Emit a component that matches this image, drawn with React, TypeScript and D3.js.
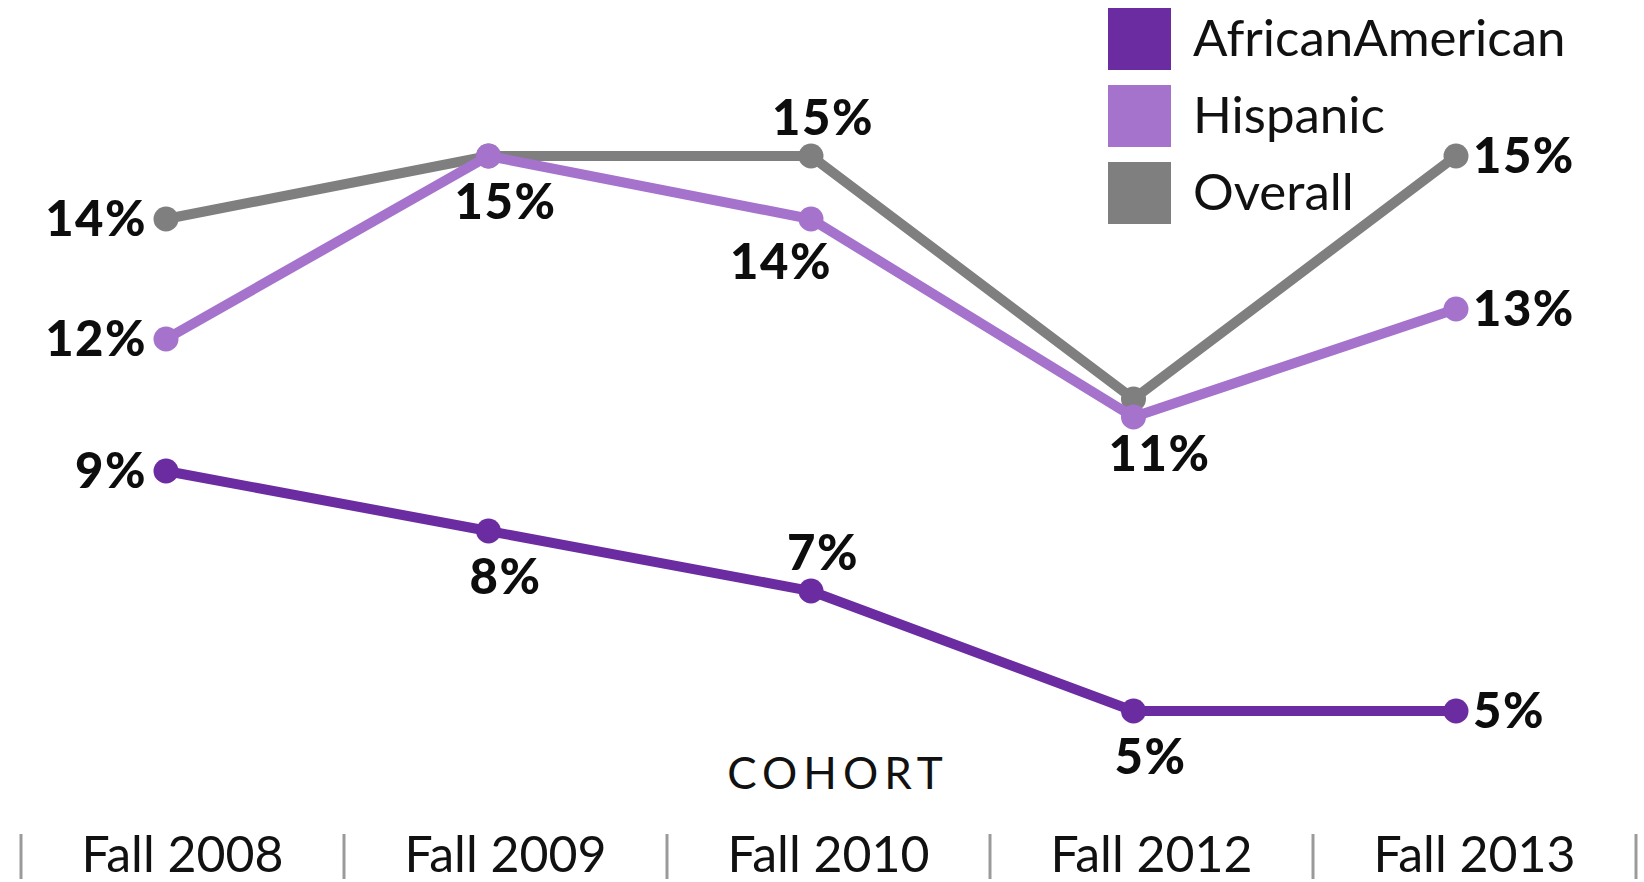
import React from 'react';
import * as d3 from 'd3';

// cohorts on the x axis
const cohorts = ['Fall 2008', 'Fall 2009', 'Fall 2010', 'Fall 2012', 'Fall 2013'];

// series values (% )
const overall = [13.6, 14.65, 14.65, 10.6, 14.65];
const hispanic = [11.6, 14.65, 13.6, 10.3, 12.1];
const africanAmerican = [9.4, 8.4, 7.4, 5.4, 5.4];

// printed data labels (null = not shown)
const overallLabels = ['14%', null, '15%', null, '15%'];
const hispanicLabels = ['12%', '15%', '14%', '11%', '13%'];
const africanAmericanLabels = ['9%', '8%', '7%', '5%', '5%'];

// where each label sits relative to its point
const overallPlace = ['left', null, 'above', null, 'right'];
const hispanicPlace = ['left', 'below', 'belowLeft', 'belowRight', 'right'];
const africanAmericanPlace = ['left', 'below', 'above', 'below', 'right'];

const legendNames = ['AfricanAmerican', 'Hispanic', 'Overall'];

const W = 1644;
const H = 882;

const colors = {
  AfricanAmerican: '#6a2ca0',
  Hispanic: '#a572cc',
  Overall: '#7f7f7f',
};

const App = () => {
  const x = d3.scalePoint().domain(cohorts).range([166, 1456]);
  const band = d3.scaleBand().domain(cohorts).range([21, 1636]);
  const y = d3.scaleLinear().domain([0, 16]).range([1035, 75]);

  const line = d3
    .line<number>()
    .x((_, i) => x(cohorts[i]))
    .y((d) => y(d));

  const series = [
    { name: 'Overall', values: overall, labels: overallLabels, place: overallPlace },
    { name: 'Hispanic', values: hispanic, labels: hispanicLabels, place: hispanicPlace },
    { name: 'AfricanAmerican', values: africanAmerican, labels: africanAmericanLabels, place: africanAmericanPlace },
  ];

  // label offsets per placement
  const labelPos = (p, px, py) => {
    switch (p) {
      case 'left':
        return { x: px - 19, y: py + 17, anchor: 'end' };
      case 'right':
        return { x: px + 17, y: py + 17, anchor: 'start' };
      case 'above':
        return { x: px + 12, y: py - 21, anchor: 'middle' };
      case 'below':
        return { x: px + 17, y: py + 63, anchor: 'middle' };
      case 'belowLeft':
        return { x: px - 30, y: py + 60, anchor: 'middle' };
      case 'belowRight':
        return { x: px + 26, y: py + 54, anchor: 'middle' };
      default:
        return null;
    }
  };

  return (
    <svg
      width={W}
      height={H}
      style={{ position: 'absolute', left: 0, top: 0, background: '#fff' }}
    >
      {series.map((s) => (
        <g key={s.name}>
          <path d={line(s.values)} fill="none" stroke={colors[s.name]} strokeWidth={10} />
          {s.values.map((v, i) => (
            <circle key={i} cx={x(cohorts[i])} cy={y(v)} r={12.5} fill={colors[s.name]} />
          ))}
        </g>
      ))}

      {series.map((s) =>
        s.values.map((v, i) => {
          if (!s.labels[i]) return null;
          const pos = labelPos(s.place[i], x(cohorts[i]), y(v));
          return (
            <text
              key={s.name + i}
              x={pos.x}
              y={pos.y}
              textAnchor={pos.anchor}
              fill="#0d0d0d"
              fontFamily="Lato, sans-serif"
              fontWeight={900}
              fontSize={49}
              letterSpacing={1.5}
            >
              {s.labels[i]}
            </text>
          );
        })
      )}

      {/* legend */}
      {legendNames.map((n, i) => (
        <g key={n} transform={`translate(1108, ${8 + i * 77})`}>
          <rect width={63} height={62} fill={colors[n]} />
          <text x={85} y={48} fontFamily="Lato, sans-serif" fontSize={51} fill="#111">
            {n}
          </text>
        </g>
      ))}

      {/* axis title */}
      <text
        x={838}
        y={789}
        textAnchor="middle"
        fontFamily="Lato, sans-serif"
        fontSize={44}
        letterSpacing={6}
        fill="#111"
      >
        COHORT
      </text>

      {/* category axis: separators and labels */}
      {[...cohorts.map((c) => band(c)), band.range()[1]].map((sx, i) => (
        <line key={i} x1={sx} x2={sx} y1={834} y2={879} stroke="#9a9a9a" strokeWidth={3} />
      ))}
      {cohorts.map((c) => (
        <text
          key={c}
          x={band(c) + band.bandwidth() / 2}
          y={872}
          textAnchor="middle"
          fontFamily="Lato, sans-serif"
          fontSize={50}
          fill="#111"
        >
          {c}
        </text>
      ))}
    </svg>
  );
};

export default App;
